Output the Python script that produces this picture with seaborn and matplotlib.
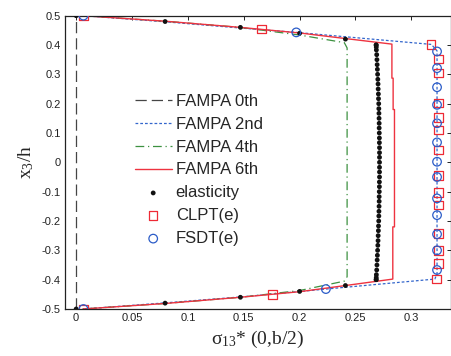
import matplotlib
matplotlib.use("Agg")
import matplotlib.pyplot as plt
import seaborn as sns
import pandas as pd

sns.set_theme(style="white")
plt.rcParams['font.family'] = ['Liberation Sans', 'DejaVu Sans']
plt.rcParams['axes.unicode_minus'] = False
plt.rcParams['mathtext.default'] = 'regular'

# ---------------- data ----------------
f0_x = [0.0, 0.0]
f0_y = [-0.5, 0.5]

f2_x = [0.006, 0.08, 0.15, 0.197, 0.318, 0.323, 0.323, 0.321, 0.2235, 0.15, 0.08, 0.006]
f2_y = [0.5, 0.479, 0.457, 0.443, 0.402, 0.38, -0.38, -0.398, -0.432, -0.458, -0.479, -0.5]

f4_x = [0.006, 0.08, 0.147, 0.2, 0.24, 0.2425, 0.2425, 0.24, 0.2, 0.147, 0.08, 0.006]
f4_y = [0.5, 0.481, 0.46, 0.434, 0.408, 0.39, -0.39, -0.405, -0.437, -0.46, -0.481, -0.5]

f6_x = [0.006, 0.08, 0.147, 0.2, 0.241, 0.2826, 0.2826, 0.2837, 0.2837, 0.2849, 0.2849,
        0.2834, 0.2834, 0.241, 0.2, 0.147, 0.08, 0.006]
f6_y = [0.5, 0.481, 0.46, 0.441, 0.422, 0.403, 0.287, 0.287, 0.18, 0.18, -0.22,
        -0.22, -0.398, -0.42, -0.441, -0.46, -0.481, -0.5]

# elasticity: face sheets + core
el_face_x = [0.0, 0.0796, 0.147, 0.2, 0.241, 0.2685,
             0.2685, 0.241, 0.2, 0.147, 0.0796, 0.0]
el_face_y = [0.5, 0.48, 0.46, 0.44, 0.42, 0.40,
             -0.40, -0.42, -0.44, -0.46, -0.48, -0.5]
el_core_y = [0.400, 0.393, 0.383, 0.367, 0.350, 0.333, 0.317, 0.300, 0.283, 0.267, 0.250,
             0.233, 0.217, 0.200, 0.183, 0.167, 0.150, 0.133, 0.117, 0.100, 0.083,
             0.067, 0.050, 0.033, 0.017, 0.000, -0.017, -0.033, -0.050, -0.067,
             -0.083, -0.100, -0.117, -0.133, -0.150, -0.167, -0.183, -0.200, -0.217,
             -0.233, -0.250, -0.267, -0.283, -0.300, -0.317, -0.333, -0.350, -0.367,
             -0.383, -0.393, -0.400]
el_core_x = [0.2685, 0.2686, 0.2687, 0.2690, 0.2692, 0.2694, 0.2696, 0.2698, 0.2700,
             0.2702, 0.2703, 0.2705, 0.2706, 0.2708, 0.2709, 0.2710, 0.2711, 0.2712,
             0.2712, 0.2713, 0.2714, 0.2714, 0.2715, 0.2715, 0.2715, 0.2715,
             0.2715, 0.2715, 0.2715, 0.2714, 0.2714, 0.2713, 0.2712, 0.2712, 0.2711,
             0.2710, 0.2709, 0.2708, 0.2706, 0.2705, 0.2703, 0.2702, 0.2700, 0.2698,
             0.2696, 0.2694, 0.2692, 0.2690, 0.2687, 0.2686, 0.2685]

clpt_x = [0.0065, 0.166, 0.3175, 0.3245, 0.3245, 0.3245, 0.3245, 0.3245, 0.3245, 0.3245,
          0.3245, 0.3245, 0.3245, 0.3245, 0.3245, 0.3225, 0.1755, 0.0065]
clpt_y = [0.5, 0.454, 0.402, 0.352, 0.305, 0.203, 0.153, 0.11, 0.042, -0.045, -0.103,
          -0.145, -0.242, -0.30, -0.344, -0.398, -0.45, -0.5]

fsdt_x = [0.0065, 0.197, 0.323, 0.323, 0.323, 0.323, 0.323, 0.323, 0.323, 0.323, 0.323,
          0.323, 0.323, 0.323, 0.323, 0.2235, 0.0065]
fsdt_y = [0.5, 0.443, 0.378, 0.321, 0.256, 0.196, 0.133, 0.068, 0.002, -0.05, -0.123,
          -0.18, -0.245, -0.30, -0.367, -0.432, -0.5]

x_ticks = [0, 0.05, 0.1, 0.15, 0.2, 0.25, 0.3]
x_ticklabels = ["0", "0.05", "0.1", "0.15", "0.2", "0.25", "0.3"]
y_ticks = [-0.5, -0.4, -0.3, -0.2, -0.1, 0, 0.1, 0.2, 0.3, 0.4, 0.5]
y_ticklabels = ["-0.5", "-0.4", "-0.3", "-0.2", "-0.1", "0", "0.1", "0.2", "0.3", "0.4", "0.5"]

# ---------------- plot ----------------
fig = plt.figure(figsize=(4.52, 3.56), dpi=100)
ax = fig.add_axes([0.1438, 0.132, 0.854, 0.824])

def line(x, y, **kw):
    sns.lineplot(x=x, y=y, sort=False, estimator=None, ax=ax, **kw)

line(f0_x, f0_y, color="#454545", lw=0.9, label="FAMPA 0th")
ax.lines[-1].set_dashes([9, 4])
line(f2_x, f2_y, color="#3366cc", lw=0.9, label="FAMPA 2nd")
ax.lines[-1].set_dashes([2.2, 1.6])
line(f4_x, f4_y, color="#3d9140", lw=0.9, label="FAMPA 4th")
ax.lines[-1].set_dashes([7, 3, 1, 3])
line(f6_x, f6_y, color="#ee3340", lw=1.0, label="FAMPA 6th")

el_x = el_face_x + el_core_x
el_y = el_face_y + el_core_y
sns.scatterplot(x=el_x, y=el_y, ax=ax, color="#111111", s=12, marker="o",
                edgecolor="none", label="elasticity", zorder=4)
sns.scatterplot(x=clpt_x, y=clpt_y, ax=ax, marker="s", s=38, facecolor="none",
                edgecolor="#ee2a35", linewidth=0.9, label="CLPT(e)", zorder=5)
sns.scatterplot(x=fsdt_x, y=fsdt_y, ax=ax, marker="o", s=38, facecolor="none",
                edgecolor="#2b5cc8", linewidth=0.9, label="FSDT(e)", zorder=6)

ax.set_xlim(-0.01, 0.3355)
ax.set_ylim(-0.5, 0.5)
ax.set_xticks(x_ticks)
ax.set_xticklabels(x_ticklabels)
ax.set_yticks(y_ticks)
ax.set_yticklabels(y_ticklabels)
ax.tick_params(direction="in", length=3, width=0.7, top=True, right=True,
               labelsize=8, colors="#222222", pad=3)
for s in ax.spines.values():
    s.set_color("#222222")
    s.set_linewidth(0.9)

ax.set_xlabel("σ$_{13}$* (0,b/2)", family="Liberation Serif", fontsize=14, labelpad=4)
ax.set_ylabel("x$_3$/h", family="Liberation Serif", fontsize=14, labelpad=4)

leg = ax.legend(loc="upper left", bbox_to_anchor=(0.181, 0.733), frameon=False,
                fontsize=12, handlelength=2.2, handletextpad=0.25, labelspacing=0.47,
                borderaxespad=0, borderpad=0)

fig.savefig("out.png", dpi=100)
